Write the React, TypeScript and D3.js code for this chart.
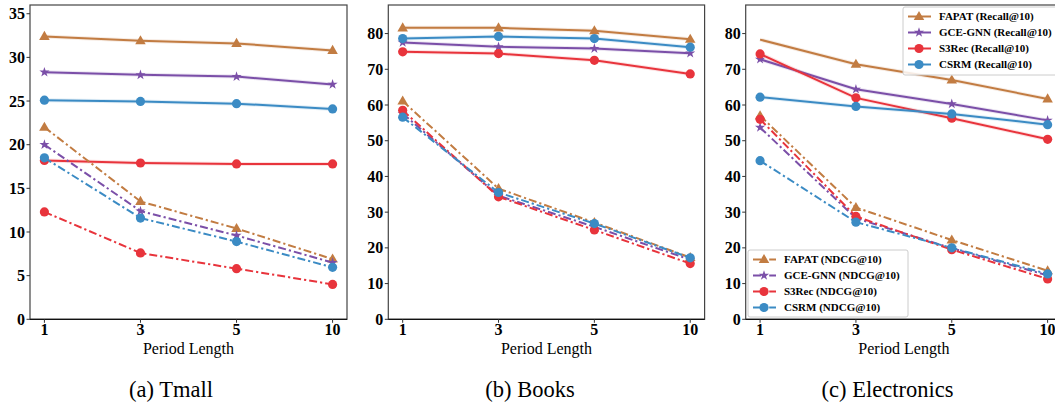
import React from "react";
import * as d3 from "d3";

const periods = ["1", "3", "5", "10"];
const models = ["FAPAT", "GCE-GNN", "S3Rec", "CSRM"];
const colors = ["#c27c42", "#7b4fa8", "#e8343c", "#3b8bc4"];
const markers = ["triangle", "star", "circle", "circle"];

// Tmall
const tmallRecall = [
  [32.4, 31.9, 31.6, 30.8],
  [28.3, 28.0, 27.8, 26.9],
  [18.2, 17.9, 17.8, 17.8],
  [25.1, 24.95, 24.7, 24.1],
];
const tmallNdcg = [
  [22.0, 13.5, 10.4, 6.9],
  [20.0, 12.4, 9.6, 6.5],
  [12.3, 7.6, 5.8, 4.0],
  [18.5, 11.6, 8.9, 5.95],
];
// Books
const booksRecall = [
  [81.6, 81.6, 80.8, 78.4],
  [77.5, 76.3, 75.8, 74.5],
  [74.9, 74.4, 72.5, 68.7],
  [78.6, 79.2, 78.6, 76.2],
];
const booksNdcg = [
  [61.1, 36.6, 27.1, 17.3],
  [57.6, 34.6, 25.9, 16.7],
  [58.5, 34.3, 25.0, 15.6],
  [56.6, 35.5, 26.8, 17.2],
];
// Electronics
const elecRecall = [
  [78.3, 71.4, 67.0, 61.7],
  [72.8, 64.4, 60.3, 55.7],
  [74.3, 62.0, 56.3, 50.4],
  [62.2, 59.6, 57.5, 54.5],
];
const elecNdcg = [
  [57.0, 31.3, 22.2, 13.6],
  [53.7, 28.3, 19.9, 12.3],
  [56.0, 28.8, 19.5, 11.3],
  [44.4, 27.2, 20.0, 12.7],
];

const tmallTicks = [0, 5, 10, 15, 20, 25, 30, 35];
const wideTicks = [0, 10, 20, 30, 40, 50, 60, 70, 80];

const FONT = "Liberation Serif, Times New Roman, DejaVu Serif, serif";
const DASH = "8,3,2.2,3";

function Marker({ type, x, y, color }: { type: string; x: number; y: number; color: string }) {
  if (type === "circle") return <circle cx={x} cy={y} r={4.6} fill={color} />;
  const sym = type === "triangle" ? d3.symbolTriangle : d3.symbolStar;
  const size = type === "triangle" ? 48 : 32;
  const dy = type === "triangle" ? 0.5 : 0;
  return <path d={d3.symbol(sym, size)() || ""} transform={`translate(${x},${y + dy})`} fill={color} />;
}

type PanelProps = {
  left: number;
  right: number;
  yMax: number;
  ticks: number[];
  recall: number[][];
  ndcg: number[][];
  caption: string;
  captionX: number;
  skipFirstRecallMarker?: number[];
};

function Panel({ left, right, yMax, ticks, recall, ndcg, caption, captionX, skipFirstRecallMarker = [] }: PanelProps) {
  const top = 5;
  const bottom = 319.3;
  const x = d3.scaleLinear().domain([-0.15, periods.length - 1 + 0.15]).range([left, right]);
  const y = d3.scaleLinear().domain([0, yMax]).range([bottom, top]);
  const line = d3
    .line<number>()
    .x((_, i) => x(i))
    .y((v) => y(v));
  const order = [0, 1, 2, 3];
  const tStyle = { fontFamily: FONT, fontWeight: 700, fontSize: "16px" };
  return (
    <g>
      <defs>
        <clipPath id={`clip-${left}`}>
          <rect x={left} y={top} width={right - left} height={bottom - top} />
        </clipPath>
      </defs>
      <g clipPath={`url(#clip-${left})`}>
        {order.map((m) => (
          <g key={"r" + m}>
            <path d={line(recall[m]) || ""} fill="none" stroke={colors[m]} strokeWidth={4} strokeOpacity={0.15} />
            <path d={line(recall[m]) || ""} fill="none" stroke={colors[m]} strokeWidth={2} />
            {recall[m].map((v, i) =>
              i === 0 && skipFirstRecallMarker.includes(m) ? null : (
                <Marker key={i} type={markers[m]} x={x(i)} y={y(v)} color={colors[m]} />
              )
            )}
          </g>
        ))}
        {order.map((m) => (
          <g key={"n" + m}>
            <path d={line(ndcg[m]) || ""} fill="none" stroke={colors[m]} strokeWidth={2} strokeDasharray={DASH} />
            {ndcg[m].map((v, i) => (
              <Marker key={i} type={markers[m]} x={x(i)} y={y(v)} color={colors[m]} />
            ))}
          </g>
        ))}
      </g>
      <rect x={left} y={top} width={right - left} height={bottom - top} fill="none" stroke="#444" strokeWidth={1.2} />
      <line x1={left} x2={right} y1={bottom} y2={bottom} stroke="#111" strokeWidth={1.3} />
      {ticks.map((t) => (
        <g key={t}>
          <line x1={left - 3.5} x2={left} y1={y(t)} y2={y(t)} stroke="#333" strokeWidth={1} />
          <text x={left - 5} y={y(t)} dy="0.35em" textAnchor="end" style={tStyle} fill="#000">
            {t}
          </text>
        </g>
      ))}
      {periods.map((p, i) => (
        <g key={p}>
          <line x1={x(i)} x2={x(i)} y1={bottom} y2={bottom + 3.5} stroke="#333" strokeWidth={1} />
          <text x={x(i)} y={bottom + 16} textAnchor="middle" style={tStyle} fill="#000">
            {p}
          </text>
        </g>
      ))}
      <text x={(left + right) / 2} y={354} textAnchor="middle" style={{ fontFamily: FONT, fontSize: "16px" }} fill="#000">
        Period Length
      </text>
      <text x={captionX} y={396.5} textAnchor="middle" style={{ fontFamily: FONT, fontSize: "22.5px" }} fill="#000">
        {caption}
      </text>
    </g>
  );
}

function Legend({ x0, y0, w, h, suffix, dashed }: { x0: number; y0: number; w: number; h: number; suffix: string; dashed: boolean }) {
  const rows = [0, 1, 2, 3];
  return (
    <g>
      <rect x={x0} y={y0} width={w} height={h} rx={2} fill="#fff" fillOpacity={0.85} stroke="#cccccc" strokeWidth={1} />
      {rows.map((m) => {
        const yy = y0 + 9.5 + m * 16;
        return (
          <g key={m}>
            <line
              x1={x0 + 5}
              x2={x0 + 28}
              y1={yy}
              y2={yy}
              stroke={colors[m]}
              strokeWidth={2}
              strokeDasharray={dashed ? DASH : undefined}
            />
            <Marker type={markers[m]} x={x0 + 16} y={yy} color={colors[m]} />
            <text x={x0 + 36} y={yy} dy="0.35em" style={{ fontFamily: FONT, fontWeight: 700, fontSize: "11px" }} fill="#000">
              {`${models[m]} (${suffix})`}
            </text>
          </g>
        );
      })}
    </g>
  );
}

export default function App() {
  return (
    <svg width={1055} height={402} style={{ position: "absolute", left: 0, top: 0, background: "#fff" }}>
      <rect x={0} y={0} width={1055} height={402} fill="#fff" />
      <Panel left={30} right={347} yMax={36} ticks={tmallTicks} recall={tmallRecall} ndcg={tmallNdcg} caption="(a) Tmall" captionX={171} />
      <Panel left={388.3} right={704.6} yMax={88} ticks={wideTicks} recall={booksRecall} ndcg={booksNdcg} caption="(b) Books" captionX={530} />
      <Panel
        left={745.7}
        right={1062}
        yMax={88}
        ticks={wideTicks}
        recall={elecRecall}
        ndcg={elecNdcg}
        caption="(c) Electronics"
        captionX={887.5}
        skipFirstRecallMarker={[0]}
      />
      <Legend x0={903} y0={7} w={160} h={68} suffix="Recall@10" dashed={false} />
      <Legend x0={748} y0={250} w={160} h={67} suffix="NDCG@10" dashed={true} />
    </svg>
  );
}
